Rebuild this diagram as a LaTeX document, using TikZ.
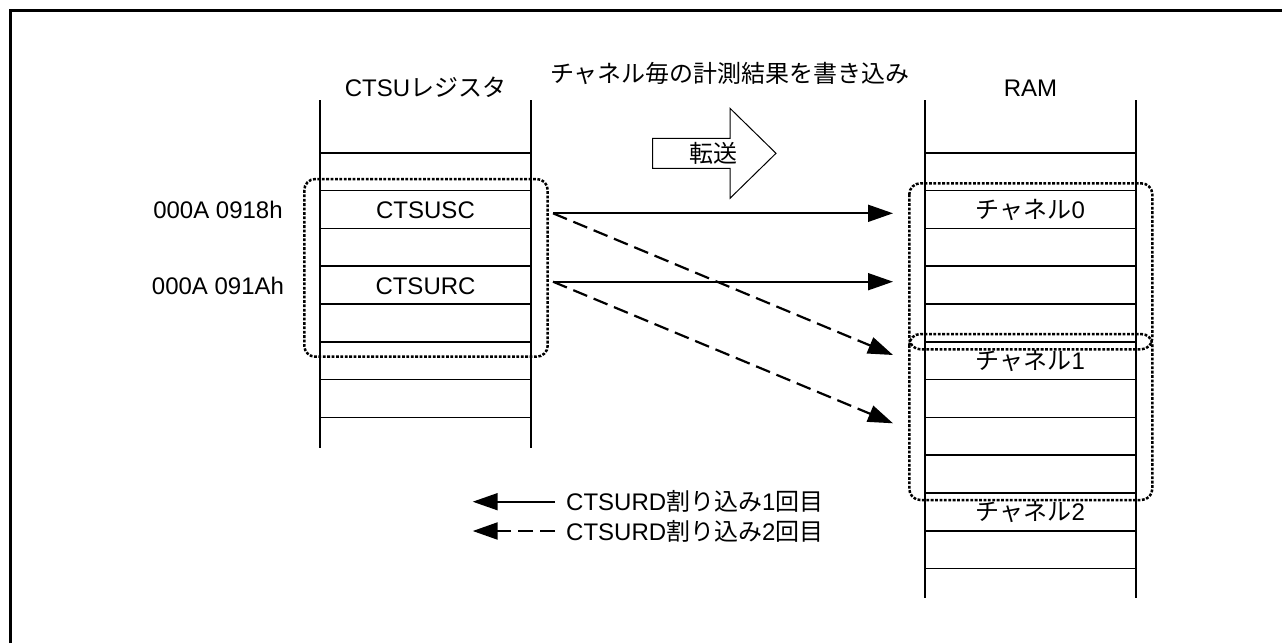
\documentclass[tikz,border=0pt]{standalone}
\usepackage{fontspec}
\setmainfont{Liberation Sans}
\newfontfamily\jp{Noto Sans CJK JP}
\usetikzlibrary{arrows.meta}
\begin{document}
\begin{tikzpicture}[x=1pt,y=-1pt,
  lbl/.style={font=\fontsize{24}{28}\selectfont, text height=17pt, text depth=0pt, inner sep=0pt},
  col/.style={line width=1.9pt},
  rowline/.style={line width=1.6pt},
  grp/.style={line width=2.5pt, dash pattern=on 2.8pt off 1.6pt, rounded corners=11pt},
  tipped/.style={-{Triangle[length=25pt,width=17pt]}},
  wr1/.style={tipped, line width=1.7pt},
  wr2/.style={tipped, line width=2.2pt, dash pattern=on 15pt off 7pt},
  blockarrow/.style={line width=1pt, fill=white}
]
\useasboundingbox (0,0) rectangle (1282,643);
% frame
\draw[line width=3.5pt] (10.5,643) -- (10.5,10.5) -- (1282,10.5);

% CTSU register column
\draw[col] (320,100) -- (320,448) (531,100) -- (531,448);
\foreach \k in {0,...,7} \draw[rowline] (320,{152.7+37.8*\k}) -- (531,{152.7+37.8*\k});

% RAM column
\draw[col] (925,100) -- (925,598) (1136,100) -- (1136,598);
\foreach \k in {0,...,11} \draw[rowline] (925,{152.7+37.8*\k}) -- (1136,{152.7+37.8*\k});

% headings
\node[lbl] (ctsuhead) at (425.5,88.2) {CTSU{\jp レジスタ}};
\node[lbl] (ramhead) at (1030.5,87.5) {RAM};
\node[lbl] (title) at (730,73.5) {\jp チャネル毎の計測結果を書き込み};

% register cells and addresses
\node[lbl] (sc) at (425.5,209.9) {CTSUSC};
\node[lbl] (rc) at (425.5,285.5) {CTSURC};
\node[lbl] (a1) at (218,209.9) {000A 0918h};
\node[lbl] (a2) at (218,285.5) {000A 091Ah};

% RAM cells
\node[lbl] (ch0) at (1030.5,210) {{\jp チャネル}0};
\node[lbl] (ch1) at (1030.5,361.2) {{\jp チャネル}1};
\node[lbl] (ch2) at (1030.5,512.1) {{\jp チャネル}2};

% dotted groups
\draw[grp] (304.3,179) rectangle (547.7,356.7);
\draw[grp] (909.3,183.3) rectangle (1152.3,349.3);
\draw[grp] (909.3,334) rectangle (1152.3,500);

% transfer block arrow
\draw[blockarrow] (652.7,138.3) -- (730,138.3) -- (730,108.3) -- (776,153.3) -- (730,198.3) -- (730,168.3) -- (652.7,168.3) -- cycle;
\node[lbl] (xfer) at (713,153.5) {\jp 転送};

% transfer connectors
\coordinate (o1) at (553,213.3);
\coordinate (o2) at (553,281.7);
\coordinate (i0) at (893,213.3);
\coordinate (i1) at (893,281.7);
\coordinate (i2) at (893,355);
\coordinate (i3) at (893,423.3);
\draw[wr1] (o1) -- (i0);
\draw[wr1] (o2) -- (i1);
\draw[wr2] (o1) -- (i2);
\draw[wr2] (o2) -- (i3);

% legend
\coordinate (l1s) at (555,501.7);
\coordinate (l1e) at (472.7,501.7);
\coordinate (l2s) at (555,531);
\coordinate (l2e) at (472.7,531);
\draw[wr1] (l1s) -- (l1e);
\draw[wr2] (l2s) -- (l2e);
\node[lbl, anchor=west] (l1t) at (566,501.5) {CTSURD{\jp 割り込み}1{\jp 回目}};
\node[lbl, anchor=west] (l2t) at (566,531.5) {CTSURD{\jp 割り込み}2{\jp 回目}};
\end{tikzpicture}
\end{document}
